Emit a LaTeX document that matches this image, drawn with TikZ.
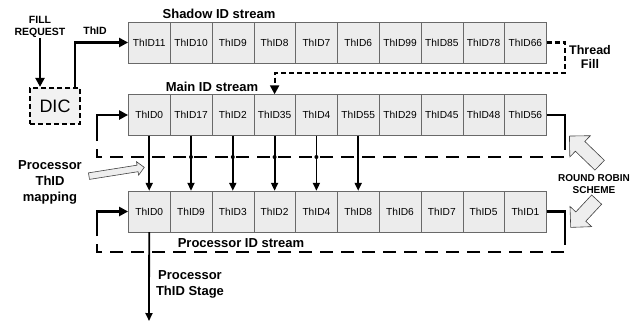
\documentclass[tikz,border=0pt]{standalone}
\usepackage{fontspec}
\setmainfont{Liberation Sans}
\usetikzlibrary{arrows.meta,positioning,shapes.arrows,calc}
\definecolor{cellGrey}{RGB}{236,236,236}
\definecolor{cellLine}{RGB}{105,105,105}
\definecolor{hollowGrey}{RGB}{238,238,238}
\definecolor{dicGrey}{RGB}{242,242,242}

\begin{document}
\begin{tikzpicture}[x=1pt,y=-1pt,
    cell/.style={draw=cellLine,fill=cellGrey,minimum width=41.8pt,minimum height=41pt,
                 inner sep=0pt,font=\fontsize{10.2}{12}\selectfont},
    lbl/.style={font=\fontsize{13}{16}\selectfont\bfseries,align=center,inner sep=0pt},
    smalllbl/.style={font=\fontsize{10.5}{12.5}\selectfont\bfseries,align=center,inner sep=0pt},
    flow/.style={line width=2.2pt,-{Triangle[length=9pt,width=9pt]}},
    map/.style={line width=1.8pt,-{Triangle[length=8pt,width=7pt]}},
    loopline/.style={line width=2.6pt},
    loopdash/.style={line width=2.2pt,dash pattern=on 13pt off 8pt},
    filldash/.style={line width=2.2pt,dash pattern=on 5pt off 3pt},
    hollow/.style={single arrow,draw=black!75,fill=hollowGrey,inner xsep=0pt,line width=0.6pt}]

    \useasboundingbox (0,0) rectangle (638,325);

    % the three ID streams
    \foreach \t [count=\i] in {ThID11,ThID10,ThID9,ThID8,ThID7,ThID6,ThID99,ThID85,ThID78,ThID66}
      \node[cell] (s\i) at ({128.3+41.8*(\i-0.5)},42.5) {\t};
    \foreach \t [count=\i] in {ThID0,ThID17,ThID2,ThID35,ThID4,ThID55,ThID29,ThID45,ThID48,ThID56}
      \node[cell] (m\i) at ({128.3+41.8*(\i-0.5)},115) {\t};
    \foreach \t [count=\i] in {ThID0,ThID9,ThID3,ThID2,ThID4,ThID8,ThID6,ThID7,ThID5,ThID1}
      \node[cell] (p\i) at ({128.3+41.8*(\i-0.5)},211.5) {\t};

    \node[lbl] (shadowlbl) at (219,14) {Shadow ID stream};
    \node[lbl] (mainlbl) at (212,87) {Main ID stream};

    % fill request and DIC
    \node[smalllbl] (fillreq) at (40,27) {FILL\\REQUEST};
    \node[draw,fill=dicGrey,line width=2.2pt,dash pattern=on 5pt off 3pt,
          minimum width=50pt,minimum height=36pt,font=\fontsize{18}{20}\selectfont] (dic) at (55,106) {DIC};
    \draw[flow] (fillreq.south) -- (fillreq.south |- dic.north);
    \draw[flow] ([xshift=20pt]dic.north) |- (s1.west);
    \node[smalllbl] (thidlbl) at (95,31) {ThID};

    % thread fill
    \coordinate (tfA) at (565,73);
    \draw[filldash,-{Triangle[length=9pt,width=9pt]}] (s10.east) -| (tfA) -| (m4.north);
    \node[lbl,font=\fontsize{12.5}{14}\selectfont\bfseries] (tflbl) at (590,56.5) {Thread\\Fill};

    % main stream loop
    \coordinate (mR) at (565,137);
    \coordinate (mBR) at (565,157);
    \coordinate (mBL) at (97,157);
    \coordinate (mL) at (97,135);
    \draw[loopline] (m10.east) -| (mR);
    \draw[loopdash] (mR) -- (mBR) -- (mBL) -- (mL);
    \draw[loopline,-{Triangle[length=9pt,width=9pt]}] (mL) |- (m1.west);

    % processor stream loop
    \coordinate (pR) at (565,232);
    \coordinate (pBR) at (565,252);
    \coordinate (pBL) at (97,252);
    \coordinate (pL) at (97,232);
    \draw[loopline] (p10.east) -| (pR);
    \draw[loopdash] (pR) -- (pBR) -- (pBL) -- (pL);
    \draw[loopline,-{Triangle[length=9pt,width=9pt]}] (pL) |- (p1.west);
    \node[lbl,fill=white,inner sep=1pt] (proclbl) at (241,243) {Processor ID stream};

    % mapping main -> processor
    \foreach \i in {1,...,6}
      \draw[map] (m\i.south) -- (p\i.north);
    \foreach \i in {2,...,5}
      \fill (m\i.south |- mBL) circle (2pt);
    \node[lbl] (maplbl) at (50,182) {Processor\\ThID\\mapping};
    \node[hollow,minimum height=56pt,inner ysep=3pt,single arrow head extend=3.5pt,rotate=9] (mapar) at (115,172) {};

    % processor stage
    \coordinate (stageEnd) at (149,321);
    \draw[map] (p1.south) -- (stageEnd);
    \node[lbl] (stagelbl) at (190,284) {Processor\\ThID Stage};

    % round robin
    \node[smalllbl,font=\fontsize{10}{12}\selectfont\bfseries] (rrlbl) at (594,184) {ROUND ROBIN\\SCHEME};
    \node[hollow,minimum height=42pt,inner ysep=6.5pt,single arrow head extend=8pt,rotate=136] (rrup) at (587,153) {};
    \node[hollow,minimum height=38pt,inner ysep=6.5pt,single arrow head extend=8pt,rotate=-133] (rrdown) at (586,211) {};
\end{tikzpicture}
\end{document}
